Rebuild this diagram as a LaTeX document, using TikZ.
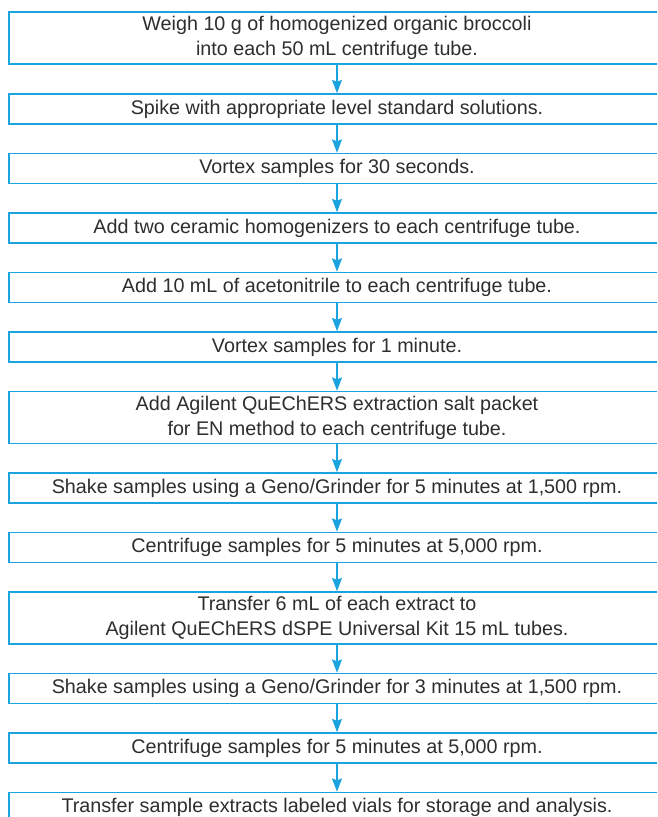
\documentclass[tikz,border=0pt]{standalone}
\usepackage{fontspec}
\setmainfont{Liberation Sans}
\usetikzlibrary{arrows.meta}
\definecolor{flowblue}{HTML}{1BA3E0}
\definecolor{flowtext}{HTML}{2E2E2E}
\tikzset{
  stepbox/.style={draw=flowblue, line width=1.2pt, fill=white, rectangle,
    minimum width=492pt, minimum height=22.5pt, inner sep=0pt,
    align=center, text=flowtext,
    font=\fontsize{14.8pt}{18.75pt}\selectfont},
  twoline/.style={stepbox, minimum height=39pt},
  flow/.style={draw=flowblue, line width=1pt,
    -{Stealth[length=10pt, width=7.5pt, inset=1.5pt]}}
}
\begin{document}
\begin{tikzpicture}[x=0.75pt, y=-0.75pt]
  \clip (0,0) rectangle (657,817);
  \fill[white] (0,0) rectangle (657,817);
  \node[twoline] (s1)  at (337,38)    {Weigh 10 g of homogenized organic broccoli\\into each 50 mL centrifuge tube.};
  \node[stepbox] (s2)  at (337,109)   {Spike with appropriate level standard solutions.};
  \node[stepbox] (s3)  at (337,168.5) {Vortex samples for 30 seconds.};
  \node[stepbox] (s4)  at (337,228)   {Add two ceramic homogenizers to each centrifuge tube.};
  \node[stepbox] (s5)  at (337,287.5) {Add 10 mL of acetonitrile to each centrifuge tube.};
  \node[stepbox] (s6)  at (337,347)   {Vortex samples for 1 minute.};
  \node[twoline] (s7)  at (337,417.5) {Add Agilent QuEChERS extraction salt packet\\for EN method to each centrifuge tube.};
  \node[stepbox] (s8)  at (337,488)   {Shake samples using a Geno/Grinder for 5 minutes at 1,500 rpm.};
  \node[stepbox] (s9)  at (337,547.5) {Centrifuge samples for 5 minutes at 5,000 rpm.};
  \node[twoline] (s10) at (337,618)   {Transfer 6 mL of each extract to\\Agilent QuEChERS dSPE Universal Kit 15 mL tubes.};
  \node[stepbox] (s11) at (337,688.5) {Shake samples using a Geno/Grinder for 3 minutes at 1,500 rpm.};
  \node[stepbox] (s12) at (337,748)   {Centrifuge samples for 5 minutes at 5,000 rpm.};
  \node[stepbox] (s13) at (337,807.5) {Transfer sample extracts labeled vials for storage and analysis.};
  \foreach \a/\b in {s1/s2,s2/s3,s3/s4,s4/s5,s5/s6,s6/s7,s7/s8,s8/s9,s9/s10,s10/s11,s11/s12,s12/s13}
    \draw[flow] (\a.south) -- (\b.north);
\end{tikzpicture}
\end{document}
